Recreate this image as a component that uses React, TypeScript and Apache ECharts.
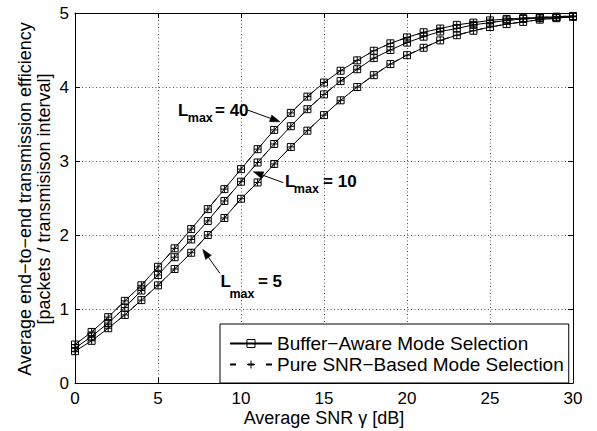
import React, { useEffect, useRef } from 'react';
import * as echarts from 'echarts';

// Average SNR γ [dB]
const snrDb = [0, 1, 2, 3, 4, 5, 6, 7, 8, 9, 10, 11, 12, 13, 14, 15, 16, 17, 18, 19, 20, 21, 22, 23, 24, 25, 26, 27, 28, 29, 30];

// Buffer-aware mode selection
const bufferLmax40 = [0.52, 0.69, 0.89, 1.11, 1.32, 1.57, 1.82, 2.08, 2.35, 2.62, 2.89, 3.16, 3.42, 3.65, 3.87, 4.06, 4.22, 4.36, 4.49, 4.59, 4.67, 4.74, 4.79, 4.84, 4.87, 4.90, 4.92, 4.93, 4.94, 4.95, 4.96];
const bufferLmax10 = [0.47, 0.63, 0.81, 1.02, 1.25, 1.46, 1.70, 1.94, 2.19, 2.46, 2.72, 2.98, 3.23, 3.47, 3.70, 3.90, 4.08, 4.24, 4.39, 4.50, 4.60, 4.68, 4.75, 4.79, 4.84, 4.87, 4.90, 4.92, 4.93, 4.94, 4.95];
const bufferLmax5 = [0.43, 0.57, 0.74, 0.92, 1.12, 1.32, 1.54, 1.76, 2.00, 2.23, 2.49, 2.71, 2.96, 3.19, 3.41, 3.62, 3.82, 4.00, 4.16, 4.31, 4.43, 4.53, 4.63, 4.70, 4.76, 4.81, 4.85, 4.88, 4.91, 4.93, 4.95];

// Pure SNR-based mode selection (overlaps the buffer-aware curves)
const pureLmax40 = [0.52, 0.69, 0.89, 1.11, 1.32, 1.57, 1.82, 2.08, 2.35, 2.62, 2.89, 3.16, 3.42, 3.65, 3.87, 4.06, 4.22, 4.36, 4.49, 4.59, 4.67, 4.74, 4.79, 4.84, 4.87, 4.90, 4.92, 4.93, 4.94, 4.95, 4.96];
const pureLmax10 = [0.47, 0.63, 0.81, 1.02, 1.25, 1.46, 1.70, 1.94, 2.19, 2.46, 2.72, 2.98, 3.23, 3.47, 3.70, 3.90, 4.08, 4.24, 4.39, 4.50, 4.60, 4.68, 4.75, 4.79, 4.84, 4.87, 4.90, 4.92, 4.93, 4.94, 4.95];
const pureLmax5 = [0.43, 0.57, 0.74, 0.92, 1.12, 1.32, 1.54, 1.76, 2.00, 2.23, 2.49, 2.71, 2.96, 3.19, 3.41, 3.62, 3.82, 4.00, 4.16, 4.31, 4.43, 4.53, 4.63, 4.70, 4.76, 4.81, 4.85, 4.88, 4.91, 4.93, 4.95];

const legendNames = ['Buffer\u2212Aware Mode Selection', 'Pure SNR\u2212Based Mode Selection'];
const xTitle = 'Average SNR \u03b3 [dB]';
const yTitle = ['Average end\u2212to\u2212end transmission efficiency', '[packets / transmisison interval]'];

// Annotation arrows in data units: tail -> tip
const annotationLabels = ['40', '10', '5'];
const annotationTails = [[10.38, 3.69], [12.55, 2.707], [8.73, 1.482]];
const annotationTips = [[12.35, 3.53], [10.74, 2.855], [7.69, 1.807]];

export default function App() {
  const ref = useRef<HTMLDivElement>(null);

  useEffect(() => {
    const chart = echarts.init(ref.current!, null, { renderer: 'svg' });
    const FONT = "'Liberation Sans', Arial, Helvetica, sans-serif";
    const squarePath = 'path://M0,0L10,0L10,10L0,10Z';
    const plusPath = 'path://M5,0L5,10M0,5L10,5';

    const mk = (name: string, data: number[], dashed: boolean) => ({
      type: 'line',
      name,
      data: snrDb.map((x, i) => [x, data[i]]),
      symbol: dashed ? plusPath : squarePath,
      symbolSize: 7,
      showSymbol: true,
      showAllSymbol: true,
      lineStyle: { color: '#000', width: 1, type: dashed ? [6, 12] : 'solid' },
      itemStyle: { color: 'transparent', borderColor: '#000', borderWidth: 1 },
      silent: true,
      z: dashed ? 3 : 2,
      emphasis: { disabled: true },
    });

    const axisCommon = {
      type: 'value',
      axisLine: { show: true, onZero: false, lineStyle: { color: '#000', width: 1 } },
      axisTick: { show: true, inside: true, length: 5, lineStyle: { color: '#000', width: 1 } },
    };

    chart.setOption({
      animation: false,
      backgroundColor: '#fff',
      grid: { left: 75, right: 24, top: 13, bottom: 48 },
      xAxis: [
        {
          ...axisCommon,
          position: 'bottom',
          min: 0, max: 30, interval: 5,
          axisLabel: { color: '#000', fontSize: 17, fontFamily: FONT, margin: 7 },
          splitLine: { show: true, lineStyle: { color: '#555', width: 1, type: [1, 2.5] } },
        },
        {
          ...axisCommon,
          position: 'top',
          min: 0, max: 30, interval: 5,
          axisLabel: { show: false },
          splitLine: { show: false },
        },
      ],
      yAxis: [
        {
          ...axisCommon,
          position: 'left',
          min: 0, max: 5, interval: 1,
          axisLabel: { color: '#000', fontSize: 17, fontFamily: FONT, margin: 6 },
          splitLine: { show: true, lineStyle: { color: '#555', width: 1, type: [1, 2.5] } },
        },
        {
          ...axisCommon,
          position: 'right',
          min: 0, max: 5, interval: 1,
          axisLabel: { show: false },
          splitLine: { show: false },
        },
      ],
      legend: {
        data: legendNames,
        orient: 'vertical',
        left: 220,
        top: 324,
        padding: [9, 5, 8, 9],
        itemWidth: 42,
        itemHeight: 10,
        itemGap: 0,
        borderColor: '#000',
        borderWidth: 1,
        backgroundColor: '#fff',
        selectedMode: false,
        textStyle: { fontSize: 19, fontFamily: FONT, color: '#000', lineHeight: 21 },
        itemStyle: { color: 'transparent', borderColor: '#000', borderWidth: 1 },
      },
      series: [
        mk(legendNames[0], bufferLmax40, false),
        mk(legendNames[0], bufferLmax10, false),
        mk(legendNames[0], bufferLmax5, false),
        mk(legendNames[1], pureLmax40, true),
        mk(legendNames[1], pureLmax10, true),
        mk(legendNames[1], pureLmax5, true),
      ],
    });

    // Annotations (label offsets relative to arrow tail, in px)
    const labelOffsets = [
      { L: [-69.3, 6], m: [-59.5, 12], e: [-32.3, 6] },
      { L: [1.7, 5], m: [10.5, 10.8], e: [39.7, 4.8] },
      { L: [0.7, 14.5], m: [9.5, 24.7], e: [38, 14.5] },
    ];
    const graphics: any[] = [];
    annotationLabels.forEach((lab, i) => {
      const S = chart.convertToPixel({ gridIndex: 0 }, annotationTails[i]) as number[];
      const T = chart.convertToPixel({ gridIndex: 0 }, annotationTips[i]) as number[];
      const dx = T[0] - S[0];
      const dy = T[1] - S[1];
      const len = Math.sqrt(dx * dx + dy * dy);
      const ux = dx / len;
      const uy = dy / len;
      const nx = -uy;
      const ny = ux;
      const head = 10;
      const hw = 3.5;
      const B = [T[0] - ux * head, T[1] - uy * head];
      graphics.push({
        type: 'line',
        shape: { x1: S[0], y1: S[1], x2: B[0], y2: B[1] },
        style: { stroke: '#000', lineWidth: 1 },
        silent: true,
        z: 10,
      });
      graphics.push({
        type: 'polygon',
        shape: { points: [[T[0], T[1]], [B[0] + nx * hw, B[1] + ny * hw], [B[0] - nx * hw, B[1] - ny * hw]] },
        style: { fill: '#000', stroke: '#000', lineWidth: 0.5 },
        silent: true,
        z: 10,
      });
      const o = labelOffsets[i];
      graphics.push({
        type: 'text', x: S[0] + o.L[0], y: S[1] + o.L[1] - 5.9, silent: true, z: 10,
        style: { text: 'L', font: `bold 17px ${FONT}`, fill: '#000', textAlign: 'left', textVerticalAlign: 'middle' },
      });
      graphics.push({
        type: 'text', x: S[0] + o.m[0], y: S[1] + o.m[1] - 4.3, silent: true, z: 10,
        style: { text: 'max', font: `bold 12.5px ${FONT}`, fill: '#000', textAlign: 'left', textVerticalAlign: 'middle' },
      });
      graphics.push({
        type: 'text', x: S[0] + o.e[0], y: S[1] + o.e[1] - 5.9, silent: true, z: 10,
        style: { text: `= ${lab}`, font: `bold 17px ${FONT}`, fill: '#000', textAlign: 'left', textVerticalAlign: 'middle' },
      });
    });

    graphics.push({
      type: 'text', x: 324, y: 417.5, silent: true,
      style: { text: xTitle, font: `18px ${FONT}`, fill: '#000', textAlign: 'center', textVerticalAlign: 'middle' },
    });
    graphics.push({
      type: 'text', x: 34.5, y: 199, rotation: Math.PI / 2, silent: true,
      style: { text: yTitle.join('\n'), font: `18px ${FONT}`, lineHeight: 18.5, fill: '#000', textAlign: 'center', textVerticalAlign: 'middle' },
    });

    chart.setOption({ graphic: graphics });

    return () => chart.dispose();
  }, []);

  return (
    <div
      ref={ref}
      style={{ position: 'fixed', left: 0, top: 0, width: 597, height: 431, background: '#fff' }}
    />
  );
}
